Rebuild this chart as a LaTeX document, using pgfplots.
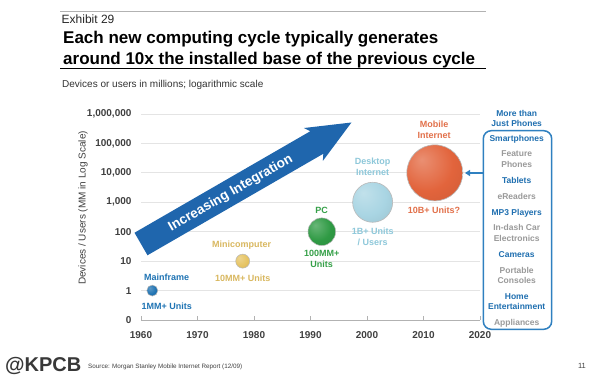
\documentclass[border=0pt]{standalone}
\usepackage{pgfplots}
\pgfplotsset{compat=1.18}
\usepackage{fontspec}
\setmainfont{Liberation Sans}
\usetikzlibrary{arrows.meta}
\definecolor{mfblue}{HTML}{1E72B2}
\definecolor{minigold}{HTML}{E6C463}
\definecolor{pcgreen}{HTML}{2F9A44}
\definecolor{dtblue}{HTML}{A9D5E3}
\definecolor{mobred}{HTML}{E2643C}
\definecolor{mftext}{HTML}{1F74B4}
\definecolor{minitext}{HTML}{D9B860}
\definecolor{pctext}{HTML}{35A048}
\definecolor{dttext}{HTML}{8EC8DA}
\definecolor{mobtext}{HTML}{E2704A}
\definecolor{arrowblue}{HTML}{1F66AD}
\definecolor{boxblue}{HTML}{2F80C0}
\definecolor{itemblue}{HTML}{1F6FB0}
\definecolor{itemgray}{HTML}{9A9A9A}
\definecolor{ticktext}{HTML}{404040}
\definecolor{gridgray}{HTML}{E4E4E4}
\newcommand\mkball[2]{%
  \pgfdeclareradialshading{sh#1}{\pgfpoint{-12bp}{12bp}}{%
    color(0bp)=(#2!72!white); color(24bp)=(#2); color(50bp)=(#2!88!black); color(68bp)=(#2!72!black)}%
  \pgfdeclareplotmark{ball#1}{%
    \begin{pgfscope}\pgfpathcircle{\pgfpointorigin}{\pgfplotmarksize}\pgfshadepath{sh#1}{0}\pgfusepath{discard}\end{pgfscope}%
    \pgfpathcircle{\pgfpointorigin}{\pgfplotmarksize}\pgfusepath{stroke}}}
\mkball{mf}{mfblue}
\mkball{mini}{minigold}
\mkball{pc}{pcgreen}
\mkball{dt}{dtblue}
\mkball{mob}{mobred}
\begin{document}
\begin{tikzpicture}[x=1pt,y=1pt]
\path[use as bounding box] (0,0) rectangle (600,385);
\fill[white] (0,0) rectangle (600,385);
\begin{axis}[
  at={(141pt,65pt)}, anchor=south west,
  scale only axis, width=339pt, height=206pt,
  xmin=1960, xmax=2020, ymode=log, ymin=0.1, ymax=1e6,
  clip=false,
  axis x line*=bottom, axis y line*=left,
  x axis line style={draw=gray!60, line width=0.8pt},
  y axis line style={draw=none},
  xtick={1960,1970,1980,1990,2000,2010,2020},
  xticklabels={1960,1970,1980,1990,2000,2010,2020},
  ytick={0.1,1,10,100,1000,10000,100000,1000000},
  yticklabels={0,1,10,100,{1,000},{10,000},{100,000},{1,000,000}},
  yminorticks=false,
  ymajorgrids, grid style={gridgray, line width=0.8pt},
  xtick style={draw=gray!60, line width=0.8pt},
  ytick style={draw=none},
  tick align=inside, major tick length=4pt,
  tick label style={font=\fontsize{10}{12}\selectfont\bfseries, text=ticktext},
  xticklabel style={yshift=-8pt},
  yticklabel style={xshift=-6pt},
]
\addplot[only marks, mark=ballmf, mark size=5.5pt, mark options={draw=gray!55, line width=0.5pt}] coordinates {(1962,1)};
\addplot[only marks, mark=ballmini, mark size=7pt, mark options={draw=gray!55, line width=0.5pt}] coordinates {(1978,10)};
\addplot[only marks, mark=ballpc, mark size=13.8pt, mark options={draw=gray!55, line width=0.5pt}] coordinates {(1992,100)};
\addplot[only marks, mark=balldt, mark size=20pt, mark options={draw=gray!55, line width=0.6pt}] coordinates {(2001,1000)};
\addplot[only marks, mark=ballmob, mark size=28pt, mark options={draw=gray!55, line width=0.6pt}] coordinates {(2012,10000)};
\end{axis}
% big arrow
\begin{scope}[shift={(141,141)}, rotate=30]
  \fill[arrowblue] (0,13) -- (203,13) -- (199,19) -- (243,0) -- (199,-19) -- (203,-13) -- (0,-13) -- cycle;
  \node[rotate=30, text=white, font=\fontsize{13.5}{15}\selectfont\bfseries] at (103,-1) {Increasing Integration};
\end{scope}
\begin{scope}[shift={(0,385)}, yscale=-1]
  \tikzset{lbl/.style={inner sep=0pt, anchor=base, font=\fontsize{9}{11}\selectfont\bfseries},
           itm/.style={inner sep=0pt, anchor=base, font=\fontsize{8.5}{10}\selectfont\bfseries}}
  % header
  \draw[gray!60, line width=1.5pt] (60,11.7) -- (486,11.7);
  \node[inner sep=0pt, anchor=base west, font=\fontsize{12}{14}\selectfont, text=black!85] at (61.5,24) {Exhibit 29};
  \node[inner sep=0pt, anchor=base west, font=\fontsize{17}{20}\selectfont\bfseries] at (63,43.5) {Each new computing cycle typically generates};
  \node[inner sep=0pt, anchor=base west, font=\fontsize{17}{20}\selectfont\bfseries] at (63,65) {around 10x the installed base of the previous cycle};
  \draw[black, line width=1.2pt] (60,68.3) -- (486,68.3);
  \node[inner sep=0pt, anchor=base west, font=\fontsize{10}{12}\selectfont, text=black!80] at (62,87.5) {Devices or users in millions; logarithmic scale};
  % y label
  \node[rotate=90, inner sep=0pt, font=\fontsize{10}{12}\selectfont, text=ticktext] at (83,208) {Devices / Users (MM in Log Scale)};
  % bubble labels
  \node[lbl, text=mftext] at (166.7,280.3) {Mainframe};
  \node[lbl, text=mftext] at (166.7,309.3) {1MM+ Units};
  \node[lbl, text=minitext] at (241.7,247.3) {Minicomputer};
  \node[lbl, text=minitext] at (242.7,281.3) {10MM+ Units};
  \node[lbl, text=pctext] at (321.7,214) {PC};
  \node[lbl, text=pctext] at (321.7,256.6) {100MM+};
  \node[lbl, text=pctext] at (321.7,268) {Units};
  \node[lbl, text=dttext] at (372.7,165) {Desktop};
  \node[lbl, text=dttext] at (372.7,176) {Internet};
  \node[lbl, text=dttext] at (372.7,235) {1B+ Units};
  \node[lbl, text=dttext] at (372.7,245.6) {/ Users};
  \node[lbl, text=mobtext] at (434,127.6) {Mobile};
  \node[lbl, text=mobtext] at (434,138.6) {Internet};
  \node[lbl, text=mobtext] at (434,214) {10B+ Units?};
  % right panel
  \draw[boxblue, line width=1.5pt, rounded corners=8pt, fill=white] (483.3,130.7) rectangle (551.7,329.3);
  \draw[boxblue, line width=1.5pt, -{Triangle[length=5pt,width=6pt]}] (483.3,173) -- (465,173);
  \node[itm, text=itemblue] at (516.7,116.4) {More than};
  \node[itm, text=itemblue] at (516.7,126.4) {Just Phones};
  \node[itm, text=itemblue] at (516.7,141.4) {Smartphones};
  \node[itm, text=itemgray] at (516.7,156.4) {Feature};
  \node[itm, text=itemgray] at (516.7,167.1) {Phones};
  \node[itm, text=itemblue] at (516.7,183.1) {Tablets};
  \node[itm, text=itemgray] at (516.7,199.8) {eReaders};
  \node[itm, text=itemblue] at (516.7,215.1) {MP3 Players};
  \node[itm, text=itemgray] at (516.7,230.4) {In-dash Car};
  \node[itm, text=itemgray] at (516.7,241.1) {Electronics};
  \node[itm, text=itemblue] at (516.7,257.1) {Cameras};
  \node[itm, text=itemgray] at (516.7,273.1) {Portable};
  \node[itm, text=itemgray] at (516.7,283.8) {Consoles};
  \node[itm, text=itemblue] at (516.7,299.1) {Home};
  \node[itm, text=itemblue] at (516.7,309.8) {Entertainment};
  \node[itm, text=itemgray] at (516.7,325.4) {Appliances};
  % footer
  \node[inner sep=0pt, anchor=base west, font=\fontsize{20}{22}\selectfont\bfseries, text=black!78] at (5,372) {@KPCB};
  \node[inner sep=0pt, anchor=base west, font=\fontsize{6.3}{7}\selectfont, text=black!75] at (88,368.5) {Source: Morgan Stanley Mobile Internet Report (12/09)};
  \node[inner sep=0pt, anchor=base east, font=\fontsize{7.5}{9}\selectfont, text=black!75] at (586,369) {11};
\end{scope}
\end{tikzpicture}
\end{document}
